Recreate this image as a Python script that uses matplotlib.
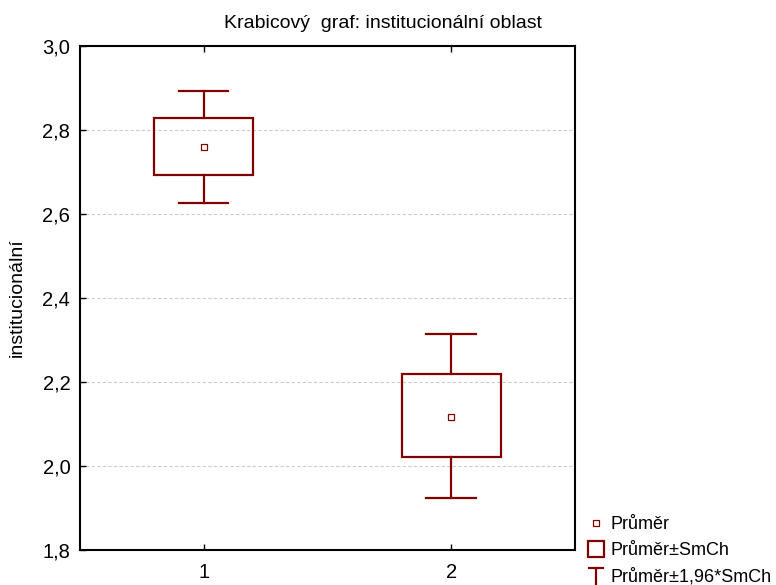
import matplotlib
matplotlib.use('Agg')
import matplotlib.pyplot as plt
from matplotlib.lines import Line2D
from matplotlib.path import Path

plt.rcParams['font.family'] = ['Liberation Sans', 'DejaVu Sans']

# data
groups = [1, 2]
means = [2.760, 2.117]
se_low = [2.692, 2.021]      # mean - SE
se_high = [2.828, 2.218]     # mean + SE
ci_low = [2.626, 1.925]      # mean - 1.96*SE
ci_high = [2.893, 2.314]     # mean + 1.96*SE
yticks = [1.8, 2.0, 2.2, 2.4, 2.6, 2.8, 3.0]

col = '#800000'
box_w = 0.4
cap_w = 0.2

fig = plt.figure(figsize=(7.76, 5.85), dpi=100)
ax = fig.add_axes([80 / 776, 1 - 550 / 585, 495 / 776, 504 / 585])

for g, m, lo, hi, clo, chi in zip(groups, means, se_low, se_high, ci_low, ci_high):
    ax.add_patch(plt.Rectangle((g - box_w / 2, lo), box_w, hi - lo,
                               fill=False, edgecolor=col, lw=1.6, zorder=3))
    ax.plot([g, g], [hi, chi], color=col, lw=1.6, zorder=3)
    ax.plot([g, g], [clo, lo], color=col, lw=1.6, zorder=3)
    ax.plot([g - cap_w / 2, g + cap_w / 2], [chi, chi], color=col, lw=1.6, zorder=3)
    ax.plot([g - cap_w / 2, g + cap_w / 2], [clo, clo], color=col, lw=1.6, zorder=3)
    ax.plot(g, m, marker='s', ms=5, mfc='white', mec=col, mew=0.9, zorder=4)

ax.set_xlim(0.5, 2.5)
ax.set_ylim(1.8, 3.0)
ax.set_xticks(groups)
ax.set_yticks(yticks)
ax.set_yticklabels([('%.1f' % v).replace('.', ',') for v in yticks])
ax.tick_params(direction='in', length=4, width=1, labelsize=14.5, top=True)
ax.tick_params(axis='y', pad=7)
ax.tick_params(axis='x', pad=9)
ax.yaxis.grid(True, color='#cccccc', linestyle=(0, (3, 2)), lw=0.8)
ax.set_axisbelow(True)
for s in ax.spines.values():
    s.set_linewidth(1.5)
ax.set_ylabel('institucionální', fontsize=14)
ax.yaxis.set_label_coords((26 - 80) / 495, 0.5)

fig.text(383 / 776, 1 - 28.5 / 585, 'Krabicový  graf: institucionální oblast',
         ha='center', va='baseline', fontsize=14)

# legend
whisk = Path([(-0.7, 0.6), (0.7, 0.6), (0, 0.6), (0, -1.4), (-0.7, -1.4), (0.7, -1.4)],
             [Path.MOVETO, Path.LINETO, Path.MOVETO, Path.LINETO, Path.MOVETO, Path.LINETO])
handles = [
    Line2D([], [], ls='none', marker='s', ms=5, mfc='white', mec=col, mew=0.9),
    Line2D([], [], ls='none', marker='s', ms=12, mfc='white', mec=col, mew=1.6),
    Line2D([], [], ls='none', marker=whisk, ms=23, mfc='none', mec=col, mew=1.6),
]
labels = ['Průměr', 'Průměr±SmCh', 'Průměr±1,96*SmCh']
fig.legend(handles, labels, loc='upper left', bbox_to_anchor=(587 / 776, 1 - 516 / 585),
           frameon=False, fontsize=13, handlelength=1.0, handletextpad=0.28,
           labelspacing=0.5, borderpad=0, borderaxespad=0)

fig.savefig('out.png', dpi=100)
